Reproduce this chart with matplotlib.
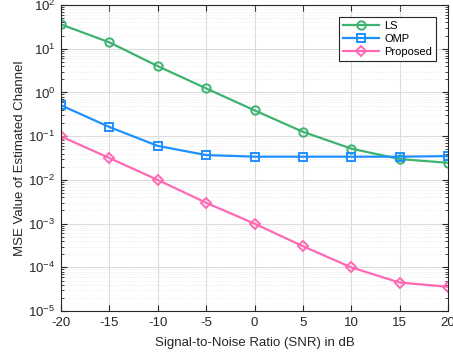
import numpy as np
import matplotlib
matplotlib.use("Agg")
import matplotlib.pyplot as plt

snr_db = [-20, -15, -10, -5, 0, 5, 10, 15, 20]
mse_ls = [36, 14, 4.0, 1.24, 0.39, 0.126, 0.052, 0.030, 0.0246]
mse_omp = [0.51, 0.162, 0.060, 0.037, 0.034, 0.034, 0.034, 0.034, 0.035]
mse_proposed = [0.099, 0.0316, 0.010, 0.0030, 0.0010, 3.05e-4, 1.0e-4, 4.5e-5, 3.6e-5]

plt.rcParams["font.family"] = ["Liberation Sans", "DejaVu Sans"]
plt.rcParams["font.size"] = 9.5

fig = plt.figure(figsize=(4.53, 3.58), dpi=100)
ax = fig.add_axes([0.1347, 0.131, 0.8543, 0.855])

ax.semilogy(snr_db, mse_ls, "-o", color="#3cb371", lw=1.6, ms=6,
            mfc="none", mew=1.4, label="LS")
ax.semilogy(snr_db, mse_omp, "-s", color="#1e90ff", lw=1.6, ms=6,
            mfc="none", mew=1.4, label="OMP")
ax.semilogy(snr_db, mse_proposed, "-D", color="#ff69b4", lw=1.6, ms=5.5,
            mfc="none", mew=1.4, label="Proposed")

ax.set_xlim(-20, 20)
ax.set_ylim(1e-5, 1e2)
ax.set_xticks(snr_db)
ax.set_xticklabels([str(s) for s in snr_db])
ax.set_yticks([10.0 ** k for k in range(-5, 3)])

ax.grid(True, which="major", color="#dcdcdc", lw=0.8)
ax.grid(True, which="minor", color="#e4e4e4", lw=0.5, ls=":")
ax.set_axisbelow(True)
ax.tick_params(which="both", direction="in", top=True, right=True,
               colors="#262626", labelcolor="#262626")
ax.tick_params(which="major", length=4, pad=4)
ax.tick_params(which="minor", length=2)
for s in ax.spines.values():
    s.set_color("#262626")
    s.set_linewidth(0.8)

ax.set_xlabel("Signal-to-Noise Ratio (SNR) in dB", color="#262626", labelpad=6)
ax.set_ylabel("MSE Value of Estimated Channel", color="#262626", labelpad=2)

leg = ax.legend(loc="upper right", bbox_to_anchor=(0.983, 0.978), fontsize=8,
                fancybox=False, edgecolor="#262626", framealpha=1,
                handlelength=3.2, borderpad=0.35, labelspacing=0.25,
                handletextpad=0.5)
leg.get_frame().set_linewidth(0.8)

fig.savefig("out.png", dpi=100)
